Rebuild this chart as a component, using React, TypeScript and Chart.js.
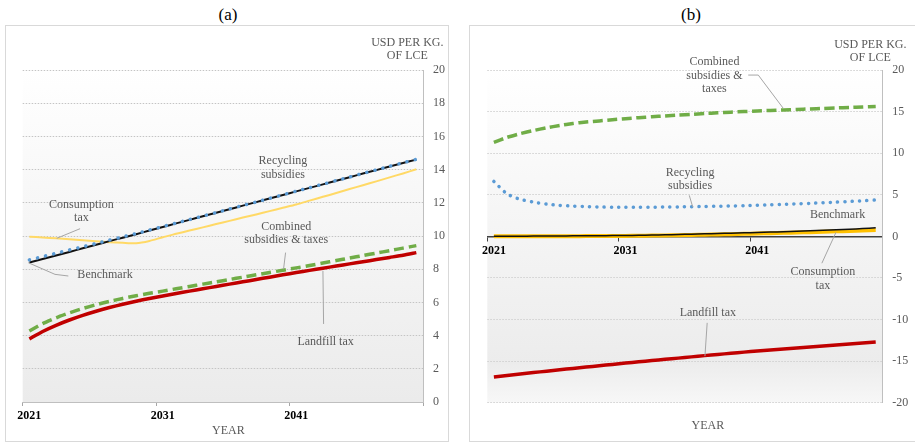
import { useEffect, useRef } from 'react';
import { Chart, registerables } from 'chart.js';

Chart.register(...registerables);

// categories
const years = [
  '2021', '2022', '2023', '2024', '2025', '2026', '2027', '2028', '2029', '2030',
  '2031', '2032', '2033', '2034', '2035', '2036', '2037', '2038', '2039', '2040',
  '2041', '2042', '2043', '2044', '2045', '2046', '2047', '2048', '2049', '2050',
];

// panel (a)
const benchmarkA = [
  8.40, 8.61, 8.83, 9.04, 9.26, 9.47, 9.69, 9.90, 10.11, 10.33,
  10.54, 10.76, 10.97, 11.19, 11.40, 11.61, 11.83, 12.04, 12.26, 12.47,
  12.69, 12.90, 13.11, 13.33, 13.54, 13.76, 13.97, 14.19, 14.40, 14.60,
];
const recyclingA = [
  8.56, 8.76, 8.96, 9.16, 9.35, 9.55, 9.75, 9.95, 10.15, 10.36,
  10.57, 10.78, 10.99, 11.20, 11.41, 11.63, 11.84, 12.05, 12.27, 12.48,
  12.70, 12.91, 13.12, 13.34, 13.55, 13.77, 13.98, 14.20, 14.41, 14.62,
];
const consumptionA = [
  9.96, 9.91, 9.86, 9.80, 9.74, 9.68, 9.63, 9.59, 9.56, 9.70,
  9.93, 10.13, 10.33, 10.52, 10.72, 10.91, 11.11, 11.30, 11.50, 11.70,
  11.90, 12.13, 12.36, 12.59, 12.83, 13.06, 13.29, 13.53, 13.77, 14.02,
];
const combinedA = [
  4.28, 4.72, 5.07, 5.37, 5.63, 5.86, 6.06, 6.24, 6.40, 6.55,
  6.68, 6.82, 6.96, 7.10, 7.24, 7.38, 7.52, 7.66, 7.80, 7.94,
  8.08, 8.22, 8.37, 8.52, 8.67, 8.82, 8.97, 9.12, 9.27, 9.42,
];
const landfillA = [
  3.80, 4.25, 4.62, 4.94, 5.22, 5.47, 5.69, 5.89, 6.07, 6.24,
  6.39, 6.54, 6.68, 6.82, 6.96, 7.10, 7.24, 7.38, 7.52, 7.66,
  7.80, 7.93, 8.06, 8.19, 8.32, 8.45, 8.58, 8.71, 8.84, 9.00,
];

// panel (b)
const benchmarkB = [
  0.00, 0.01, 0.02, 0.03, 0.04, 0.05, 0.06, 0.07, 0.08, 0.09,
  0.10, 0.13, 0.16, 0.19, 0.22, 0.26, 0.30, 0.34, 0.38, 0.42,
  0.46, 0.51, 0.56, 0.61, 0.67, 0.73, 0.79, 0.86, 0.93, 1.02,
];
const recyclingB = [
  6.60, 5.10, 4.45, 4.12, 3.87, 3.72, 3.64, 3.58, 3.53, 3.50,
  3.50, 3.50, 3.51, 3.52, 3.54, 3.56, 3.59, 3.62, 3.65, 3.69,
  3.74, 3.79, 3.85, 3.91, 3.97, 4.04, 4.11, 4.19, 4.27, 4.38,
];
const consumptionB = [
  0.00, 0.00, 0.00, 0.01, 0.01, 0.02, 0.02, 0.03, 0.03, 0.04,
  0.05, 0.07, 0.09, 0.11, 0.14, 0.17, 0.20, 0.23, 0.26, 0.30,
  0.34, 0.38, 0.42, 0.46, 0.50, 0.55, 0.60, 0.65, 0.70, 0.75,
];
const combinedB = [
  11.30, 11.90, 12.35, 12.72, 13.05, 13.33, 13.57, 13.75, 13.88, 14.02,
  14.15, 14.27, 14.38, 14.48, 14.58, 14.67, 14.76, 14.85, 14.93, 15.00,
  15.07, 15.14, 15.20, 15.26, 15.32, 15.38, 15.44, 15.50, 15.56, 15.62,
];
const landfillB = [
  -16.90, -16.72, -16.55, -16.38, -16.21, -16.04, -15.88, -15.72, -15.56, -15.40,
  -15.24, -15.09, -14.94, -14.79, -14.64, -14.49, -14.34, -14.20, -14.06, -13.92,
  -13.78, -13.66, -13.54, -13.42, -13.30, -13.18, -13.06, -12.94, -12.82, -12.70,
];

const FONT = '"Liberation Serif", "Times New Roman", serif';
const GRAY = '#595959';

interface Note {
  lines: string[];
  x: number; // category index
  y: number; // value
  leader?: [number, number][];
}

const notesA: Note[] = [
  { lines: ['Recycling', 'subsidies'], x: 19.0, y: 14.1 },
  { lines: ['Consumption', 'tax'], x: 3.9, y: 11.5, leader: [[3.8, 10.44], [2.05, 9.86]] },
  { lines: ['Benchmark'], x: 5.67, y: 7.65, leader: [[-0.08, 8.39], [1.92, 7.69], [2.92, 7.59]] },
  { lines: ['Combined', 'subsidies & taxes'], x: 19.25, y: 10.15, leader: [[19.2, 9.0], [19.05, 8.0]] },
  { lines: ['Landfill tax'], x: 22.2, y: 3.6, leader: [[22.0, 7.9], [22.05, 4.7]] },
];

const notesB: Note[] = [
  { lines: ['Combined', 'subsidies &', 'taxes'], x: 16.75, y: 19.33, leader: [[19.32, 19.39], [20.08, 19.39], [21.97, 15.41]] },
  { lines: ['Recycling', 'subsidies'], x: 14.9, y: 6.85, leader: [[14.84, 4.93], [15.1, 3.54]] },
  { lines: ['Benchmark'], x: 26.1, y: 2.55 },
  { lines: ['Consumption', 'tax'], x: 24.99, y: -5.1, leader: [[25.98, 0.48], [24.91, -3.23]] },
  { lines: ['Landfill tax'], x: 16.25, y: -9.2, leader: [[16.2, -10.4], [16.03, -14.4]] },
];

interface Series {
  data: number[];
  color: string;
  width: number;
  dash?: number[];
  cap?: CanvasLineCap;
}

interface PanelProps {
  left: number;
  width: number;
  series: Series[];
  yMin: number;
  yMax: number;
  yStep: number;
  yWidth: number;
  padLeft: number;
  padBottom: number;
  axisAtZero: boolean;
  notes: Note[];
  stops: [number, string][];
  unitDx: number;
  unitDy: number;
  yearDx: number;
  yearDy: number;
  gridColor: string;
}

function Panel(p: PanelProps) {
  const canvasRef = useRef<HTMLCanvasElement>(null);
  const chartRef = useRef<Chart | null>(null);

  useEffect(() => {
    if (!canvasRef.current) return;
    if (chartRef.current) chartRef.current.destroy();

    const decor = {
      id: 'decor',
      beforeDraw(chart: Chart) {
        const { ctx, chartArea: a } = chart;
        const g = ctx.createLinearGradient(0, a.top, 0, a.bottom);
        p.stops.forEach(([o, c]) => g.addColorStop(o, c));
        ctx.save();
        ctx.fillStyle = g;
        ctx.fillRect(a.left, a.top - 2, a.right - a.left, a.bottom - a.top + 2);
        ctx.restore();
      },
      afterDraw(chart: Chart) {
        const { ctx, chartArea: a } = chart;
        const xs = chart.scales.x;
        const ys = chart.scales.y;
        ctx.save();
        ctx.font = `12px ${FONT}`;
        ctx.fillStyle = GRAY;
        ctx.textAlign = 'center';
        ctx.textBaseline = 'middle';
        const lh = 13.5;
        p.notes.forEach(n => {
          const cx = xs.getPixelForValue(n.x);
          const cy = ys.getPixelForValue(n.y);
          n.lines.forEach((t, i) => {
            ctx.fillText(t, cx, cy + (i - (n.lines.length - 1) / 2) * lh);
          });
          if (n.leader) {
            ctx.strokeStyle = '#a6a6a6';
            ctx.lineWidth = 1;
            ctx.beginPath();
            n.leader.forEach(([lx, ly], i) => {
              const px = xs.getPixelForValue(lx);
              const py = ys.getPixelForValue(ly);
              if (i === 0) ctx.moveTo(px, py);
              else ctx.lineTo(px, py);
            });
            ctx.stroke();
          }
        });
        // unit title above the value axis
        const ux = a.right + p.unitDx;
        ctx.fillText('USD PER KG.', ux, a.top + p.unitDy);
        ctx.fillText('OF LCE', ux, a.top + p.unitDy + 12.7);
        // year title
        ctx.fillText('YEAR', (a.left + a.right) / 2 + p.yearDx, a.bottom + p.yearDy);
        ctx.restore();
      },
    };

    chartRef.current = new Chart(canvasRef.current, {
      type: 'line',
      data: {
        labels: years,
        datasets: p.series.map(s => ({
          data: s.data,
          borderColor: s.color,
          borderWidth: s.width,
          borderDash: s.dash ?? [],
          borderCapStyle: s.cap ?? 'butt',
          pointRadius: 0,
          fill: false,
          tension: 0.2,
        })),
      },
      options: {
        responsive: false,
        animation: false,
        layout: { padding: { left: p.padLeft, top: 44, right: 0, bottom: p.padBottom } },
        plugins: { legend: { display: false }, tooltip: { enabled: false } },
        scales: {
          x: {
            type: 'category',
            offset: true,
            position: p.axisAtZero ? { y: 0 } : 'bottom',
            grid: {
              offset: true,
              drawOnChartArea: false,
              drawTicks: true,
              tickLength: 4,
              tickColor: (c: any) => ((c.index ?? 0) % 10 === 0 ? (p.axisAtZero ? '#404040' : '#a6a6a6') : 'rgba(0,0,0,0)'),
            },
            border: { display: true, color: p.axisAtZero ? '#404040' : '#bfbfbf', width: p.axisAtZero ? 1.5 : 1 },
            ticks: {
              autoSkip: false,
              maxRotation: 0,
              padding: 3,
              color: '#000000',
              font: { family: FONT, size: 12, weight: 'bold' },
              callback: (_v: any, i: number) => (i % 10 === 0 ? years[i] : ''),
            },
            afterFit: (s: any) => {
              if (!p.axisAtZero) s.height = 39;
            },
          },
          y: {
            position: 'right',
            min: p.yMin,
            max: p.yMax,
            ticks: { stepSize: p.yStep, padding: 10, color: GRAY, font: { family: FONT, size: 12 } },
            grid: { drawTicks: false, color: p.gridColor, lineWidth: 1 },
            border: { display: true, color: '#bfbfbf', dash: [1.5, 1.5] },
            afterFit: (s: any) => {
              s.width = p.yWidth;
            },
          },
        },
      },
      plugins: [decor],
    } as any);

    return () => {
      if (chartRef.current) {
        chartRef.current.destroy();
        chartRef.current = null;
      }
    };
  }, []);

  return (
    <div
      style={{
        position: 'absolute',
        left: p.left,
        top: 25,
        width: p.width,
        height: 417,
        boxSizing: 'border-box',
        border: '1px solid #d9d9d9',
      }}
    >
      <canvas
        ref={canvasRef}
        width={p.width - 2}
        height={415}
        style={{ width: p.width - 2, height: 415, display: 'block' }}
      />
    </div>
  );
}

export default function App() {
  const titleStyle = {
    position: 'absolute' as const,
    top: 3,
    width: 60,
    textAlign: 'center' as const,
    fontFamily: FONT,
    fontSize: 17,
    lineHeight: '24px',
    color: '#000',
  };
  return (
    <div style={{ position: 'absolute', left: 0, top: 0, width: 915, height: 442, background: '#fff', overflow: 'hidden' }}>
      <div style={{ ...titleStyle, left: 228 - 30 }}>(a)</div>
      <div style={{ ...titleStyle, left: 691 - 30 }}>(b)</div>
      <Panel
        left={5}
        width={444}
        series={[
          { data: recyclingA, color: '#5B9BD5', width: 3.5, dash: [0.1, 8.2], cap: 'round' },
          { data: benchmarkA, color: '#111111', width: 2 },
          { data: consumptionA, color: '#FFD966', width: 2 },
          { data: combinedA, color: '#70AD47', width: 3.5, dash: [10, 5] },
          { data: landfillA, color: '#C00000', width: 3.5 },
        ]}
        yMin={0}
        yMax={20}
        yStep={2}
        yWidth={25}
        padLeft={16.7}
        padBottom={0}
        axisAtZero={false}
        notes={notesA}
        stops={[[0, '#ffffff'], [1, '#ebebeb']]}
        unitDx={-15.7}
        unitDy={-26.7}
        yearDx={5.6}
        yearDy={29}
        gridColor="#c4c4c4"
      />
      <Panel
        left={469}
        width={448}
        series={[
          { data: benchmarkB, color: '#111111', width: 1.5 },
          { data: consumptionB, color: '#FFC000', width: 4 },
          { data: recyclingB, color: '#5B9BD5', width: 3.5, dash: [0.1, 7.2], cap: 'round' },
          { data: combinedB, color: '#70AD47', width: 3.5, dash: [10, 4.5] },
          { data: landfillB, color: '#C00000', width: 3.5 },
        ]}
        yMin={-20}
        yMax={20}
        yStep={5}
        yWidth={33.7}
        padLeft={17.3}
        padBottom={38.3}
        axisAtZero={true}
        notes={notesB}
        stops={[[0, '#ffffff'], [0.88, '#ececec'], [1, '#f7f7f7']]}
        unitDx={-12}
        unitDy={-24.7}
        yearDx={23}
        yearDy={23.3}
        gridColor="#d0d0d0"
      />
    </div>
  );
}
